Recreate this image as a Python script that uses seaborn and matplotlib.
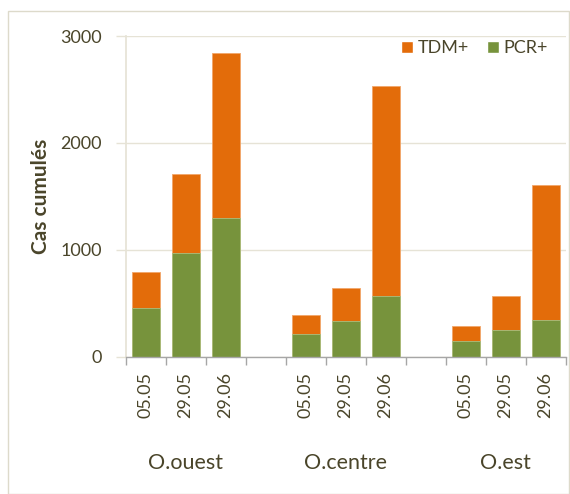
import matplotlib
matplotlib.use("Agg")
import matplotlib.pyplot as plt
from matplotlib.patches import Patch, Rectangle
import numpy as np
import pandas as pd
import seaborn as sns

# values (cumulative cases)
regions = ["O.ouest", "O.centre", "O.est"]
dates = ["05.05", "29.05", "29.06"]
pcr_pos = [455, 968, 1296, 212, 333, 564, 144, 252, 346]
tdm_pos = [339, 739, 1542, 175, 309, 1966, 140, 318, 1256]

ORANGE = "#E36C0A"
GREEN = "#77933C"
TEXT = "#4A452A"
GRID = "#E6E3D6"

# one slot per bar, with an empty slot between regions
order = []
for i, reg in enumerate(regions):
    order += [f"{reg} {d}" for d in dates]
    if i < len(regions) - 1:
        order.append(f"gap{i}")

df = pd.DataFrame({
    "slot": [f"{r} {d}" for r in regions for d in dates],
    "PCR+": pcr_pos,
    "TDM+": tdm_pos,
})
df["total"] = df["PCR+"] + df["TDM+"]

sns.set_theme(style="white")
plt.rcParams["font.family"] = ["Lato", "DejaVu Sans"]

fig = plt.figure(figsize=(5.7, 4.94), dpi=100)
ax = fig.add_axes([0.2205, 0.2779, 0.7719, 0.6492])

# outer chart border
fig.patches.append(Rectangle((8 / 570, 0.5 / 494), 561 / 570, 482.5 / 494,
                             transform=fig.transFigure, fill=False,
                             edgecolor="#DDDACB", linewidth=1.0))

sns.barplot(data=df, x="slot", y="total", order=order, color=ORANGE,
            saturation=1, width=0.7, edgecolor="#F2A66A", linewidth=0.6, ax=ax)
sns.barplot(data=df, x="slot", y="PCR+", order=order, color=GREEN,
            saturation=1, width=0.7, edgecolor="#A9BF80", linewidth=0.6, ax=ax)

ax.set_xlim(-0.5, len(order) - 0.5)
ax.set_ylim(0, 3000)
ax.set_yticks([0, 1000, 2000, 3000])
ax.yaxis.grid(True, color=GRID, linewidth=1.0)
ax.set_axisbelow(True)

labels = [s.split(" ")[1] if not s.startswith("gap") else "" for s in order]
ax.set_xticks(range(len(order)))
ax.set_xticklabels(labels, rotation=90, fontsize=13, color=TEXT)
ax.set_xticks(np.arange(-0.5, len(order), 1), minor=True)
ax.tick_params(axis="x", which="major", length=0, pad=11)
ax.tick_params(axis="x", which="minor", length=6, width=1.0, color="#A6A6A6",
               bottom=True, direction="out")
ax.tick_params(axis="y", length=7, width=1.0, color=GRID, pad=10,
               labelsize=13, labelcolor=TEXT, left=True, direction="out")

for side in ["top", "right"]:
    ax.spines[side].set_visible(False)
ax.spines["left"].set_color(GRID)
ax.spines["bottom"].set_color("#A6A6A6")
ax.spines["bottom"].set_linewidth(1.0)

ax.set_xlabel("")
ax.set_ylabel("Cas cumulés", fontsize=15, fontweight="bold", color=TEXT)
ax.yaxis.set_label_coords(-0.17, 0.5)

# region labels under each group of dates
xt = ax.get_xaxis_transform()
for i, reg in enumerate(regions):
    center = i * (len(dates) + 1) + (len(dates) - 1) / 2
    ax.text(center, -0.35, reg, transform=xt, ha="center", va="baseline",
            fontsize=15.5, color=TEXT)

handles = [Patch(facecolor=ORANGE, label="TDM+"), Patch(facecolor=GREEN, label="PCR+")]
fig.legend(handles=handles, loc="center right", ncol=2, frameon=False,
           bbox_to_anchor=(548 / 570, 1 - 48 / 494), fontsize=13,
           handlelength=0.67, handleheight=0.67, handletextpad=0.25,
           columnspacing=1.0, borderpad=0, borderaxespad=0,
           labelcolor=TEXT)

fig.savefig("out.png", dpi=100)
